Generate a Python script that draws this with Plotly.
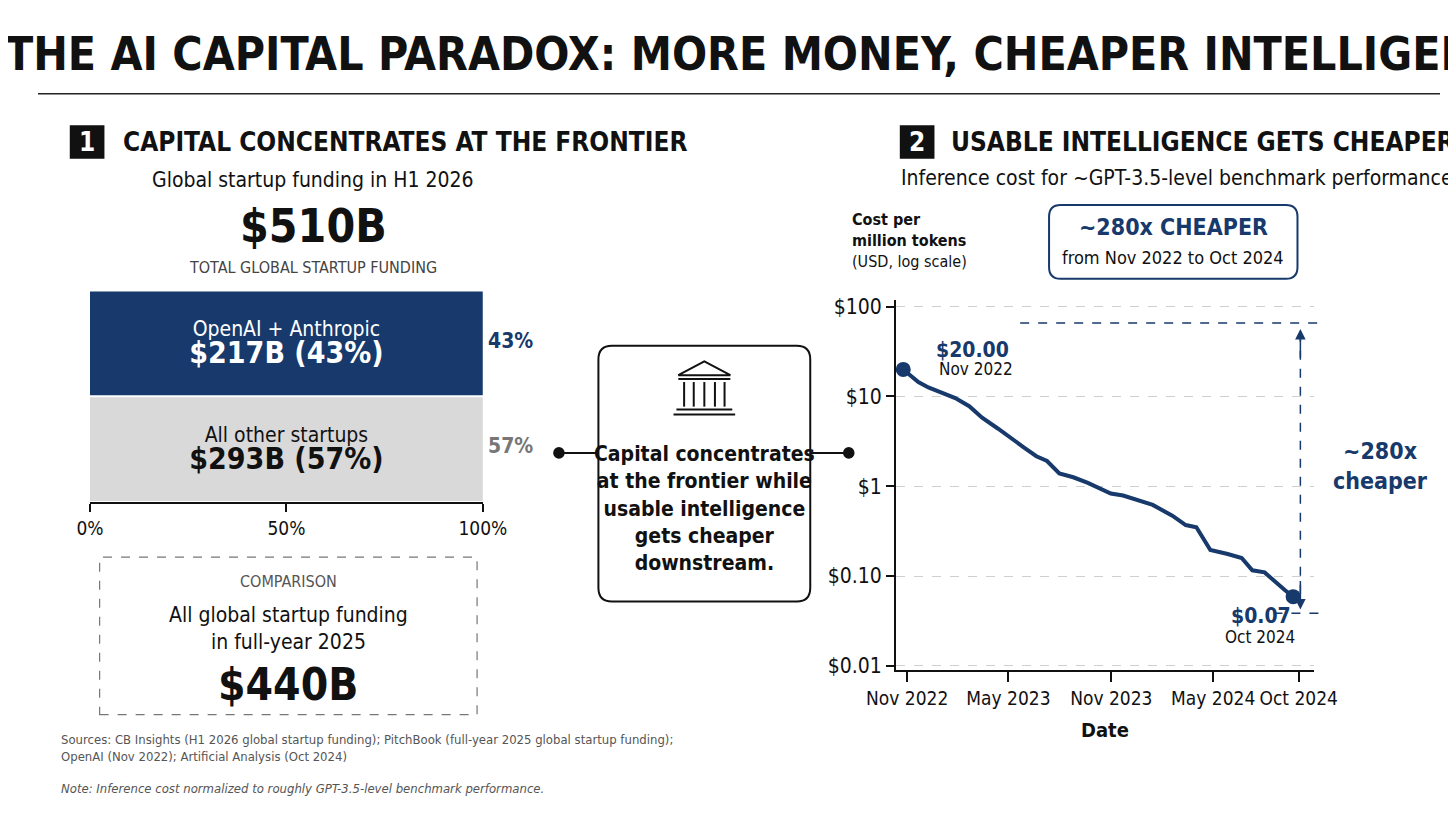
import plotly.graph_objects as go

# left panel: funding split (H1 2026)
segments = ['OpenAI + Anthropic', 'All other startups']
seg_amount = ['$217B', '$293B']
seg_share = [43, 57]
bar_len = [100, 100]
pct_ticks = [0, 50, 100]
pct_labels = ['0%', '50%', '100%']

# right panel: inference cost, USD per million tokens
cost_dates = ['2022-10-25', '2022-11-21', '2022-12-09', '2023-01-26', '2023-02-20', '2023-03-15',
              '2023-04-12', '2023-05-04', '2023-05-29', '2023-06-20', '2023-07-09', '2023-07-31',
              '2023-08-25', '2023-09-20', '2023-10-31', '2023-11-22', '2023-12-23', '2024-01-14',
              '2024-02-18', '2024-03-13', '2024-04-01', '2024-04-26', '2024-05-27', '2024-06-21',
              '2024-07-10', '2024-08-01', '2024-09-06', '2024-09-21']
cost_vals = [20.0, 14.5, 12.6, 9.6, 7.8, 5.8, 4.4, 3.55, 2.7, 2.16, 1.91, 1.39, 1.26, 1.09,
             0.83, 0.79, 0.68, 0.62, 0.47, 0.37, 0.35, 0.195, 0.176, 0.159, 0.116, 0.11, 0.07, 0.059]
date_ticks = ['2022-11-01', '2023-05-01', '2023-11-01', '2024-05-01', '2024-10-01']
date_labels = ['Nov 2022', 'May 2023', 'Nov 2023', 'May 2024', 'Oct 2024']
cost_ticks = [0.01, 0.1, 1, 10, 100]
cost_labels = ['$0.01', '$0.10', '$1', '$10', '$100']

NAVY = '#17396b'
NARROW = 'Liberation Sans Narrow, DejaVu Sans Condensed, Arial Narrow, sans-serif'
W, H = 1456, 819


def px(x):
    return x / W


def py(y):
    return 1 - y / H


fig = go.Figure()

fig.add_trace(go.Bar(
    y=segments, x=bar_len, orientation='h', width=0.98,
    marker=dict(color=[NAVY, '#d9d9d9'], line=dict(width=0)),
    text=[f'{s}<br><b><span style="font-size:30px">{a} ({p}%)</span></b>'
          for s, a, p in zip(segments, seg_amount, seg_share)],
    textposition='inside', insidetextanchor='middle',
    textfont=dict(family=NARROW, size=21, color=['white', '#111']),
    hoverinfo='skip', xaxis='x', yaxis='y', showlegend=False))

fig.add_trace(go.Scatter(
    x=cost_dates, y=cost_vals, mode='lines',
    line=dict(color=NAVY, width=4), xaxis='x2', yaxis='y2', showlegend=False))
fig.add_trace(go.Scatter(
    x=[cost_dates[0], cost_dates[-1]], y=[cost_vals[0], cost_vals[-1]], mode='markers',
    marker=dict(color=NAVY, size=15), xaxis='x2', yaxis='y2', showlegend=False))

fig.update_layout(
    width=W, height=H, margin=dict(l=0, r=0, t=0, b=0),
    plot_bgcolor='white', paper_bgcolor='white',
    font=dict(family=NARROW, color='#111'),
    xaxis=dict(domain=[px(54), px(462)], range=[0, 100], tickvals=pct_ticks, ticktext=pct_labels,
               showgrid=False, zeroline=False, showline=True, linecolor='#111', linewidth=2,
               ticks='outside', ticklen=8, tickwidth=2, tickcolor='#111',
               tickfont=dict(size=19, family=NARROW), anchor='y'),
    yaxis=dict(domain=[py(497), py(282)], categoryorder='array', categoryarray=segments[::-1],
               showticklabels=False, showgrid=False, zeroline=False, anchor='x'),
    xaxis2=dict(domain=[px(891), px(1325)], type='date', range=['2022-10-12', '2024-10-28'],
                tickvals=date_ticks, ticktext=date_labels, showgrid=False, zeroline=False,
                showline=True, linecolor='#111', linewidth=2, ticks='outside', ticklen=10,
                tickwidth=2, tickcolor='#111', tickfont=dict(size=19, family=NARROW),
                title=dict(text='<b>Date</b>', font=dict(size=20)), anchor='y2'),
    yaxis2=dict(domain=[py(668), py(292)], type='log', range=[-2.05, 2.07],
                tickvals=cost_ticks, ticktext=cost_labels, showgrid=True,
                gridcolor='#cfcfcf', griddash='dash', zeroline=False, showline=True,
                linecolor='#111', linewidth=2, ticks='outside', ticklen=8, tickwidth=2,
                tickcolor='#111', tickfont=dict(size=21, family=NARROW), anchor='x2'),
)

ann = []


def txt(x, y, s, size, color='#111', anchor='center', bold=False, italic=False, family=NARROW):
    if bold:
        s = f'<b>{s}</b>'
    if italic:
        s = f'<i>{s}</i>'
    ann.append(dict(x=px(x), y=py(y), xref='paper', yref='paper', text=s, showarrow=False,
                    xanchor=anchor, yanchor='middle', align=anchor,
                    font=dict(size=size, color=color, family=family)))


txt(760, 42, 'THE AI CAPITAL PARADOX: MORE MONEY, CHEAPER INTELLIGENCE', 46, bold=True)
# section 1
txt(51, 131, '1', 26, color='white', bold=True)
txt(86, 131, 'CAPITAL CONCENTRATES AT THE FRONTIER', 26, anchor='left', bold=True)
txt(286, 170, 'Global startup funding in H1 2026', 21)
txt(286, 216, '$510B', 46, bold=True)
txt(286, 259, 'TOTAL GLOBAL STARTUP FUNDING', 16, color='#444')
txt(491, 333, '43%', 21, color=NAVY, bold=True)
txt(491, 440, '57%', 21, color='#777', bold=True)
txt(260, 578, 'COMPARISON', 16, color='#555')
txt(260, 625, 'All global startup funding<br>in full-year 2025', 21)
txt(260, 682, '$440B', 44, bold=True)
# middle box
txt(692, 503, 'Capital concentrates<br>at the frontier while<br>usable intelligence<br>gets cheaper<br>downstream.', 21, bold=True)
# section 2
txt(913, 131, '2', 26, color='white', bold=True)
txt(946, 131, 'USABLE INTELLIGENCE GETS CHEAPER', 26, anchor='left', bold=True)
txt(1183, 168, 'Inference cost for ~GPT-3.5-level benchmark performance', 21)
txt(843, 231, '<b>Cost per<br>million tokens</b><br>(USD, log scale)', 16, anchor='left')
txt(1179, 217, '~280x CHEAPER', 23, color=NAVY, bold=True)
txt(1179, 248, 'from Nov 2022 to Oct 2024', 18)
txt(931, 342, '$20.00', 21, color=NAVY, anchor='left', bold=True)
txt(934, 362, 'Nov 2022', 17, anchor='left')
txt(1270, 613, '$0.07', 21, color=NAVY, bold=True)
txt(1269, 634, 'Oct 2024', 17)
txt(1394, 460, '~280x<br>cheaper', 23, color=NAVY, bold=True)
# footer
txt(22, 747, 'Sources: CB Insights (H1 2026 global startup funding); PitchBook (full-year 2025 global startup funding);<br>OpenAI (Nov 2022); Artificial Analysis (Oct 2024)', 13, color='#555', anchor='left')
txt(22, 788, 'Note: Inference cost normalized to roughly GPT-3.5-level benchmark performance.', 13, color='#555', anchor='left', italic=True)

# arrowheads of the ~280x span
for y_tip, off in [(321, 30), (606, -30)]:
    ann.append(dict(x=px(1311), y=py(y_tip), ax=0, ay=off, xref='paper', yref='paper',
                    axref='pixel', ayref='pixel', text='', showarrow=True, arrowhead=2,
                    arrowsize=1.4, arrowwidth=1.5, arrowcolor=NAVY))
fig.update_layout(annotations=ann)

shapes = [
    dict(type='line', x0=0, x1=1, y0=py(82), y1=py(82), line=dict(color='#222', width=1.5)),
    dict(type='rect', x0=px(33), x1=px(69), y0=py(148), y1=py(114), fillcolor='#111', line=dict(width=0)),
    dict(type='rect', x0=px(895), x1=px(931), y0=py(148), y1=py(114), fillcolor='#111', line=dict(width=0)),
    dict(type='rect', x0=px(64), x1=px(456), y0=py(713), y1=py(553), line=dict(color='#777', width=1.2, dash='dash')),
    dict(type='line', x0=px(541), x1=px(582), y0=py(447), y1=py(447), line=dict(color='#111', width=2)),
    dict(type='line', x0=px(802), x1=px(842), y0=py(447), y1=py(447), line=dict(color='#111', width=2)),
    dict(type='circle', x0=px(535), x1=px(547), y0=py(453), y1=py(441), fillcolor='#111', line=dict(width=0)),
    dict(type='circle', x0=px(836), x1=px(848), y0=py(453), y1=py(441), fillcolor='#111', line=dict(width=0)),
    dict(type='line', x0=px(1020), x1=px(1330), y0=py(315), y1=py(315), line=dict(color=NAVY, width=1.5, dash='dash')),
    dict(type='line', x0=px(1283), x1=px(1330), y0=py(610), y1=py(610), line=dict(color=NAVY, width=1.5, dash='dash')),
    dict(type='line', x0=px(1311), x1=px(1311), y0=py(325), y1=py(602), line=dict(color=NAVY, width=1.5, dash='dash')),
]


def rounded(x0, y0, x1, y1, r, color, width):
    p = (f'M {px(x0 + r)},{py(y0)} L {px(x1 - r)},{py(y0)} Q {px(x1)},{py(y0)} {px(x1)},{py(y0 + r)} '
         f'L {px(x1)},{py(y1 - r)} Q {px(x1)},{py(y1)} {px(x1 - r)},{py(y1)} '
         f'L {px(x0 + r)},{py(y1)} Q {px(x0)},{py(y1)} {px(x0)},{py(y1 - r)} '
         f'L {px(x0)},{py(y0 + r)} Q {px(x0)},{py(y0)} {px(x0 + r)},{py(y0)} Z')
    return dict(type='path', path=p, xref='paper', yref='paper', line=dict(color=color, width=width))


shapes.append(rounded(582, 338, 802, 598, 14, '#111', 2))
shapes.append(rounded(1050, 195, 1308, 270, 12, NAVY, 2))

# bank icon
ic = dict(color='#111', width=2)
shapes.append(dict(type='path', path=f'M {px(665)},{py(368)} L {px(692)},{py(354)} L {px(719)},{py(368)} Z', line=ic))
shapes.append(dict(type='line', x0=px(665), x1=px(719), y0=py(372), y1=py(372), line=ic))
for cx in [671, 681, 692, 703, 713]:
    shapes.append(dict(type='line', x0=px(cx), x1=px(cx), y0=py(375), y1=py(400), line=ic))
shapes.append(dict(type='line', x0=px(663), x1=px(721), y0=py(403), y1=py(403), line=ic))
shapes.append(dict(type='line', x0=px(660), x1=px(724), y0=py(408), y1=py(408), line=ic))
for s in shapes:
    s.setdefault('xref', 'paper')
    s.setdefault('yref', 'paper')
fig.update_layout(shapes=shapes)

fig.write_html('out.html')
